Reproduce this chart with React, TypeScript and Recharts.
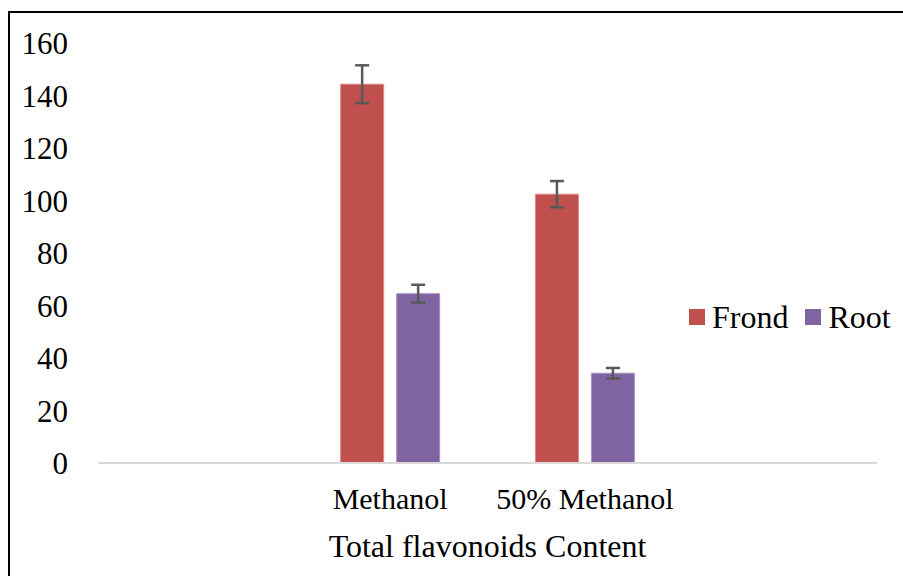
import React from "react";
import { BarChart, Bar, XAxis, YAxis, ErrorBar } from "recharts";

const categories = ["", "Methanol", "50% Methanol", " "];
const frond = [null, 144.3, 102.4, null];
const frondErr = [0, 7.2, 5.0, 0];
const root = [null, 64.5, 34.2, null];
const rootErr = [0, 3.4, 2.0, 0];
const yTicks = [0, 20, 40, 60, 80, 100, 120, 140, 160];
const seriesNames = ["Frond", "Root"];
const seriesColors = ["#C0504D", "#8064A2"];

const data = categories.map((c, i) => ({
  name: c,
  frond: frond[i],
  frondErr: frondErr[i],
  root: root[i],
  rootErr: rootErr[i],
}));

const FONT = "'Liberation Serif', 'Times New Roman', serif";

const LegendBox = () => (
  <div style={{ position: "absolute", left: 689, top: 298, display: "flex", alignItems: "center", fontFamily: FONT, fontSize: 32, color: "#000", lineHeight: "38px" }}>
    {seriesNames.map((n, i) => (
      <div key={n} style={{ display: "flex", alignItems: "center", marginRight: i === 0 ? 17 : 0 }}>
        <span style={{ display: "inline-block", width: 16, height: 16, background: seriesColors[i], marginRight: 7 }} />
        <span>{n}</span>
      </div>
    ))}
  </div>
);

export default function App() {
  return (
    <div style={{ position: "absolute", left: 0, top: 0, width: 903, height: 576, background: "#fff", overflow: "hidden" }}>
      <div style={{ position: "absolute", left: 8, top: 11, width: 900, height: 570, borderLeft: "2px solid #000", borderTop: "2px solid #000" }} />
      <div style={{ position: "absolute", left: 0, top: 0 }}>
        <BarChart
          width={903}
          height={576}
          data={data}
          margin={{ top: 43, right: 26, left: 0, bottom: 0 }}
          barCategoryGap="24.6%"
          barGap={13}
        >
          <YAxis
            width={98}
            domain={[0, 160]}
            ticks={yTicks}
            axisLine={false}
            tickLine={false}
            tickMargin={24}
            interval={0}
            tick={{ fill: "#000", fontSize: 31, fontFamily: FONT }}
          />
          <XAxis
            dataKey="name"
            height={113}
            interval={0}
            tickLine={false}
            axisLine={{ stroke: "#D9D9D9", strokeWidth: 2 }}
            tickMargin={19}
            tick={{ fill: "#000", fontSize: 30, fontFamily: FONT }}
            label={{ value: "Total flavonoids Content", position: "insideBottom", offset: 19, fill: "#000", fontSize: 32, fontFamily: FONT }}
          />
          <Bar dataKey="frond" name="Frond" fill={seriesColors[0]} stroke="#D98A88" strokeWidth={1} isAnimationActive={false}>
            <ErrorBar dataKey="frondErr" width={7} stroke="#595959" strokeWidth={2.5} />
          </Bar>
          <Bar dataKey="root" name="Root" fill={seriesColors[1]} stroke="#A890C4" strokeWidth={1} isAnimationActive={false}>
            <ErrorBar dataKey="rootErr" width={7} stroke="#595959" strokeWidth={2.5} />
          </Bar>
        </BarChart>
      </div>
      <LegendBox />
    </div>
  );
}
